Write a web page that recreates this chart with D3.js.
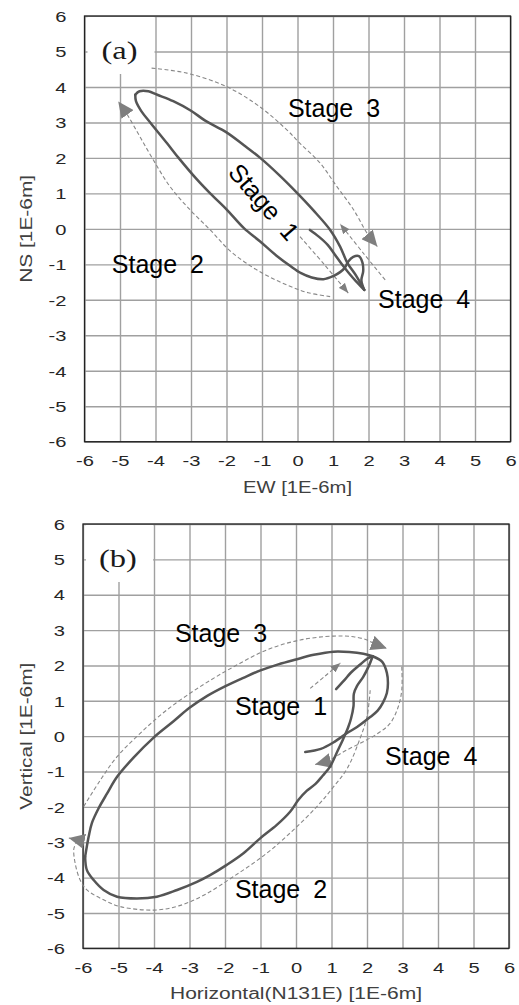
<!DOCTYPE html>
<html>
<head>
<meta charset="utf-8">
<script src="https://cdn.jsdelivr.net/npm/d3@7/dist/d3.min.js"></script>
<style>
    body { margin: 0; background: #ffffff; }
    svg { display: block; }
</style>
</head>
<body>
<svg id="vis" width="519" height="1005"></svg>
<script>
/**
 * Call our functions on window load event
 */
window.onload = function(){
    setup();
};

// tick values shared by both axes of both panels
const TICKS = [-6, -5, -4, -3, -2, -1, 0, 1, 2, 3, 4, 5, 6];
const STAGE_NAMES = ["Stage 1", "Stage 2", "Stage 3", "Stage 4"];

// panel (a): EW / NS particle motion, values in 1E-6 m
const A_STAGE1 = [[0.35,-0.03],[0.6,-0.22],[0.85,-0.45],[1.05,-0.72],[1.25,-1.0],[1.45,-1.25],[1.65,-1.48],[1.88,-1.72]];
const A_STAGE2 = [[1.88,-1.72],[1.8,-1.45],[1.85,-1.2],[1.83,-0.95],[1.73,-0.77],[1.57,-0.79],[1.43,-0.92],[1.33,-1.1],
    [1.2,-1.22],[1.01,-1.33],[0.73,-1.42],[0.4,-1.37],[0.1,-1.25],[-0.2,-1.05],[-0.6,-0.75],[-1.06,-0.35],[-1.51,0.02],
    [-2.0,0.55],[-2.46,1.0],[-2.84,1.4],[-3.35,2.0],[-3.68,2.42],[-4.15,3.0],[-4.4,3.32],[-4.55,3.6],[-4.57,3.78]];
const A_STAGE3 = [[-4.57,3.78],[-4.45,3.88],[-4.2,3.88],[-3.95,3.78],[-3.5,3.6],[-3.0,3.33],[-2.6,3.05],[-2.0,2.72],
    [-1.5,2.35],[-1.05,2.0],[-0.5,1.5],[0.0,1.0],[0.45,0.52],[0.92,-0.03],[1.2,-0.5],[1.4,-0.95],[1.65,-1.32],[1.88,-1.72]];
// dashed guide arrows of panel (a), last point = arrow tip
const A_GUIDE1 = [[0.07,-0.22],[0.75,-1.0],[1.43,-1.81]];
const A_GUIDE2 = [[0.92,-1.91],[0.3,-1.8],[-0.21,-1.62],[-0.7,-1.4],[-1.24,-1.1],[-1.9,-0.62],[-2.46,-0.03],
    [-3.03,0.54],[-3.59,1.19],[-4.06,1.94],[-4.44,2.6],[-4.79,3.21],[-5.05,3.59]];
const A_GUIDE3 = [[-4.11,4.53],[-3.12,4.39],[-2.0,4.01],[-1.06,3.44],[-0.3,2.79],[0.07,2.41],[0.64,1.85],
    [1.11,1.19],[1.58,0.54],[1.97,-0.14],[2.25,-0.5]];
const A_GUIDE4 = [[2.47,-1.44],[1.85,-0.68],[1.2,0.14]];

// panel (b): horizontal (N131E) / vertical particle motion, values in 1E-6 m
const B_STAGE1 = [[1.13,1.33],[1.35,1.57],[1.55,1.8],[1.8,2.02],[2.02,2.2],[2.16,2.26]];
const B_STAGE2 = [[2.16,2.26],[2.05,1.98],[1.89,1.67],[1.72,1.42],[1.63,1.2],[1.62,0.85],[1.55,0.5],[1.47,0.25],
    [1.33,-0.08],[1.18,-0.4],[0.96,-0.86],[0.75,-1.12],[0.55,-1.35],[0.3,-1.55],[0.07,-1.8],[-0.16,-2.13],
    [-0.54,-2.51],[-1.01,-2.89],[-1.48,-3.31],[-1.95,-3.64],[-2.42,-3.93],[-2.79,-4.12],[-3.35,-4.35],
    [-3.92,-4.54],[-4.48,-4.59],[-5.04,-4.54],[-5.42,-4.35],[-5.7,-4.07],[-5.89,-3.79],[-5.94,-3.41]];
const B_STAGE3 = [[-5.94,-3.41],[-5.84,-2.84],[-5.75,-2.46],[-5.56,-2.04],[-5.32,-1.62],[-5.04,-1.15],[-4.57,-0.6],
    [-4.01,-0.04],[-3.45,0.42],[-3.0,0.8],[-2.5,1.14],[-2.0,1.41],[-1.5,1.64],[-1.0,1.86],[-0.5,2.03],[0.0,2.17],
    [0.5,2.3],[1.06,2.39],[1.5,2.38],[1.9,2.33],[2.16,2.26]];
const B_STAGE4 = [[2.16,2.26],[2.43,2.1],[2.56,1.79],[2.59,1.5],[2.56,1.22],[2.45,0.95],[2.3,0.72],[2.09,0.54],
    [1.72,0.26],[1.43,0.08],[1.05,-0.18],[0.7,-0.36],[0.26,-0.45]];
const B_GUIDE1 = [[0.4,1.35],[0.82,1.7],[1.25,2.07]];
const B_GUIDE2 = [[2.09,1.3],[2.0,0.55],[1.81,-0.05],[1.45,-0.9],[1.06,-1.43],[0.59,-1.99],[-0.07,-2.65],
    [-0.82,-3.31],[-1.76,-3.97],[-2.6,-4.5],[-3.3,-4.8],[-4.01,-4.92],[-4.95,-4.82],[-5.42,-4.63],[-5.89,-4.35],
    [-6.08,-4.07],[-6.22,-3.6],[-6.26,-3.2],[-6.2,-2.97],[-6.4,-2.88]];
const B_GUIDE3 = [[-5.98,-1.99],[-5.51,-1.24],[-5.04,-0.58],[-4.39,0.08],[-3.64,0.74],[-2.7,1.4],[-1.76,1.96],
    [-0.82,2.44],[0.12,2.72],[1.06,2.83],[1.62,2.81],[2.0,2.72],[2.18,2.63],[2.56,2.48]];
const B_GUIDE4 = [[2.98,1.96],[2.98,1.31],[2.88,0.83],[2.65,0.36],[2.28,0.06],[1.81,-0.2],[1.34,-0.44],
    [0.98,-0.66],[0.54,-0.8]];

// styling
const SANS = "'Liberation Sans', Arial, sans-serif";
const SERIF = "'Liberation Serif', 'Times New Roman', serif";
const STRETCH = 1.3;          // axis text in the source is drawn wider than normal
const GRID_COLOR = "#a0a0a0";
const TRACK_COLOR = "#555555";
const GUIDE_COLOR = "#888888";

var PhasePlot = function(){
    this.svgContainer;  // group we draw into
    this.id;            // prefix for marker ids
    this.left; this.top; this.width; this.height;

    // D3 scales
    this.xScale;
    this.yScale;

    /**
     * Function setupScales initializes both linear scales of the panel
     */
    this.setupScales = function(){
        this.xScale = d3.scaleLinear()
            .domain([TICKS[0], TICKS[TICKS.length - 1]])
            .range([this.left, this.left + this.width]);
        this.yScale = d3.scaleLinear()
            .domain([TICKS[0], TICKS[TICKS.length - 1]])
            .range([this.top + this.height, this.top]);
    };

    /**
     * Function setupAxes draws grid, tick labels, frame and axis titles
     * @param xLabel title below the x-axis
     * @param yLabel title left of the y-axis
     * @param xLen rendered length of the x title
     * @param yLen rendered length of the y title
     */
    this.setupAxes = function(xLabel, yLabel, xLen, yLen){
        var xAxis = d3.axisBottom(this.xScale)
            .tickValues(TICKS)
            .tickSize(-this.height)
            .tickFormat(function(d){ return String(d); });
        var yAxis = d3.axisLeft(this.yScale)
            .tickValues(TICKS)
            .tickSize(-this.width)
            .tickFormat(function(d){ return String(d); });

        var gx = this.svgContainer.append("g")
            .attr("transform", `translate(0, ${this.top + this.height})`)
            .call(xAxis);
        var gy = this.svgContainer.append("g")
            .attr("transform", `translate(${this.left}, 0)`)
            .call(yAxis);

        [gx, gy].forEach(function(g){
            g.attr("font-family", SANS).attr("font-size", 15.5);
            g.select(".domain").remove();
            g.selectAll(".tick line")
                .attr("stroke", GRID_COLOR)
                .attr("stroke-width", 1.4);
            g.selectAll(".tick text")
                .attr("fill", "#262626")
                .attr("transform", `scale(${STRETCH},1)`);
        });
        gx.selectAll(".tick text").attr("y", 24.5).attr("dy", null);
        gy.selectAll(".tick text").attr("x", -18 / STRETCH).attr("dy", "0.34em");

        // plot frame
        this.svgContainer.append("rect")
            .attr("x", this.left)
            .attr("y", this.top)
            .attr("width", this.width)
            .attr("height", this.height)
            .attr("fill", "none")
            .attr("stroke", "#222")
            .attr("stroke-width", 1.3);

        // axis titles
        this.svgContainer.append("text")
            .attr("x", this.left + this.width / 2)
            .attr("y", this.top + this.height + 51)
            .attr("text-anchor", "middle")
            .attr("font-family", SANS)
            .attr("font-size", 16)
            .attr("fill", "#404040")
            .attr("textLength", xLen)
            .attr("lengthAdjust", "spacingAndGlyphs")
            .text(xLabel);
        this.svgContainer.append("text")
            .attr("transform", `translate(32, ${this.top + this.height / 2}) rotate(-90)`)
            .attr("text-anchor", "middle")
            .attr("font-family", SANS)
            .attr("font-size", 16)
            .attr("fill", "#404040")
            .attr("textLength", yLen)
            .attr("lengthAdjust", "spacingAndGlyphs")
            .text(yLabel);
    };

    /**
     * Function drawTag puts the panel letter on a white patch in the top-left corner
     */
    this.drawTag = function(tag){
        this.svgContainer.append("rect")
            .attr("x", this.left + 3)
            .attr("y", this.top + 1)
            .attr("width", 67)
            .attr("height", 57)
            .attr("fill", "#ffffff");
        this.svgContainer.append("text")
            .attr("transform", `translate(${this.left + 35}, ${this.top + 43}) scale(1.25,1)`)
            .attr("text-anchor", "middle")
            .attr("font-family", SERIF)
            .attr("font-size", 26)
            .attr("fill", "#1a1a1a")
            .text(tag);
    };

    /**
     * Function setupMarkers creates the two arrow heads used by the guides
     */
    this.setupMarkers = function(){
        var defs = this.svgContainer.append("defs");
        [["big", 16, 15], ["small", 10, 8]].forEach(function(m){
            defs.append("marker")
                .attr("id", this.id + "-" + m[0])
                .attr("markerUnits", "userSpaceOnUse")
                .attr("viewBox", `0 0 ${m[1]} ${m[2]}`)
                .attr("markerWidth", m[1])
                .attr("markerHeight", m[2])
                .attr("refX", m[1])
                .attr("refY", m[2] / 2)
                .attr("orient", "auto")
                .append("path")
                .attr("d", `M0,0 L${m[1]},${m[2] / 2} L0,${m[2]} Z`)
                .attr("fill", "#7f7f7f");
        }, this);
    };

    /**
     * Function drawGuides draws the dashed stage arrows
     * @param guides list of [points, arrow size]
     */
    this.drawGuides = function(guides){
        var self = this;
        var line = d3.line()
            .x(function(d){ return self.xScale(d[0]); })
            .y(function(d){ return self.yScale(d[1]); })
            .curve(d3.curveCatmullRom.alpha(0.5));
        this.svgContainer.selectAll("path.guide")
            .data(guides)
            .enter()
            .append("path")
            .attr("class", "guide")
            .attr("d", function(d){ return line(d[0]); })
            .attr("fill", "none")
            .attr("stroke", GUIDE_COLOR)
            .attr("stroke-width", 1.1)
            .attr("stroke-dasharray", "4,2.5")
            .attr("marker-end", function(d){ return `url(#${self.id}-${d[1]})`; });
    };

    /**
     * Function drawTracks draws the measured particle motion, one path per stage
     */
    this.drawTracks = function(tracks){
        var self = this;
        var line = d3.line()
            .x(function(d){ return self.xScale(d[0]); })
            .y(function(d){ return self.yScale(d[1]); })
            .curve(d3.curveCatmullRom.alpha(0.5));
        this.svgContainer.selectAll("path.track")
            .data(tracks)
            .enter()
            .append("path")
            .attr("class", "track")
            .attr("d", line)
            .attr("fill", "none")
            .attr("stroke", TRACK_COLOR)
            .attr("stroke-width", 2.5)
            .attr("stroke-linejoin", "round")
            .attr("stroke-linecap", "round");
    };

    /**
     * Function drawStages writes the stage names
     * @param spots list of [stage index, x, y, rotation] in data units
     */
    this.drawStages = function(spots){
        var self = this;
        this.svgContainer.selectAll("text.stage")
            .data(spots)
            .enter()
            .append("text")
            .attr("class", "stage")
            .attr("transform", function(d){
                var t = `translate(${self.xScale(d[1])}, ${self.yScale(d[2])})`;
                return d[3] ? t + ` rotate(${d[3]})` : t;
            })
            .attr("y", function(d){ return d[3] ? 9 : 0; })
            .attr("text-anchor", function(d){ return d[3] ? "middle" : "start"; })
            .attr("font-family", SANS)
            .attr("font-size", 25)
            .attr("word-spacing", 6)
            .attr("fill", "#000")
            .text(function(d){ return STAGE_NAMES[d[0]]; });
    };
};

var _vis_a;
var _vis_b;

/**
 * Function setup: builds both panels
 */
function setup(){
    var svg = d3.select("#vis");
    svg.append("rect").attr("width", 519).attr("height", 1005).attr("fill", "#fff");

    _vis_a = new PhasePlot();
    _vis_a.id = "pa";
    _vis_a.svgContainer = svg.append("g");
    _vis_a.left = 84.5; _vis_a.top = 16; _vis_a.width = 426; _vis_a.height = 425.7;
    _vis_a.setupScales();
    _vis_a.setupMarkers();
    _vis_a.setupAxes("EW [1E-6m]", "NS [1E-6m]", 109, 108);
    _vis_a.drawTag("(a)");
    _vis_a.drawGuides([[A_GUIDE1, "small"], [A_GUIDE2, "big"], [A_GUIDE3, "big"], [A_GUIDE4, "small"]]);
    _vis_a.drawTracks([A_STAGE1, A_STAGE2, A_STAGE3]);
    _vis_a.drawStages([[0, -0.94, 0.76, 49], [1, -5.23, -1.24], [2, -0.27, 3.15], [3, 2.27, -2.23]]);

    _vis_b = new PhasePlot();
    _vis_b.id = "pb";
    _vis_b.svgContainer = svg.append("g");
    _vis_b.left = 83; _vis_b.top = 524; _vis_b.width = 426; _vis_b.height = 424.3;
    _vis_b.setupScales();
    _vis_b.setupMarkers();
    _vis_b.setupAxes("Horizontal(N131E) [1E-6m]", "Vertical [1E-6m]", 252, 147);
    _vis_b.drawTag("(b)");
    _vis_b.drawGuides([[B_GUIDE1, "small"], [B_GUIDE2, "big"], [B_GUIDE3, "big"], [B_GUIDE4, "big"]]);
    _vis_b.drawTracks([B_STAGE1, B_STAGE2, B_STAGE3, B_STAGE4]);
    _vis_b.drawStages([[0, -1.72, 0.6], [1, -1.72, -4.58], [2, -3.41, 2.66], [3, 2.51, -0.82]]);
}
</script>
</body>
</html>
